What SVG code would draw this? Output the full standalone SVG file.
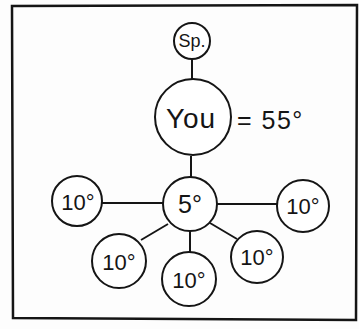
<svg xmlns="http://www.w3.org/2000/svg" width="359" height="329" viewBox="0 0 359 329">
<style>
.n{fill:#fff;stroke:#151515;stroke-width:2}
.c{stroke:#151515;stroke-width:2;fill:none}
.t{font-family:"Liberation Sans",Arial,sans-serif;fill:#151515;text-anchor:middle}
</style>
<rect width="359" height="329" fill="#fdfdfd"/>
<path d="M13,318 L12,6 L357,5 L356,320 Z" fill="none" stroke="#151515" stroke-width="2.5"/>
<g id="connectors" class="c">
<line x1="192" y1="59" x2="192" y2="79"/>
<line x1="191" y1="156" x2="191" y2="177"/>
<line x1="102" y1="203" x2="163" y2="203"/>
<line x1="217" y1="204" x2="277" y2="204"/>
<line x1="168" y1="224" x2="141" y2="240"/>
<line x1="190" y1="231" x2="190" y2="253"/>
<line x1="210" y1="223" x2="237" y2="239"/>
</g>
<g id="sp"><circle class="n" cx="192" cy="41" r="18"/><text class="t" x="192" y="47" font-size="18">Sp.</text></g>
<g id="you"><circle class="n" cx="193" cy="117" r="38"/><text class="t" x="191" y="128" font-size="28" letter-spacing="1">You</text></g>
<g id="total"><text x="237" y="129" font-family="Liberation Sans,Arial,sans-serif" font-size="25" letter-spacing="1.5" fill="#151515">= 55°</text></g>
<g id="center"><circle class="n" cx="190" cy="204" r="27"/><text class="t" x="190" y="213" font-size="25">5°</text></g>
<g id="left"><circle class="n" cx="77" cy="201" r="25"/><text class="t" x="78" y="210" font-size="22">10°</text></g>
<g id="right"><circle class="n" cx="303" cy="206" r="26"/><text class="t" x="303" y="214" font-size="22">10°</text></g>
<g id="lowerleft"><circle class="n" cx="119" cy="261" r="27"/><text class="t" x="119" y="270" font-size="22">10°</text></g>
<g id="bottom"><circle class="n" cx="189" cy="279" r="27"/><text class="t" x="189" y="288" font-size="22">10°</text></g>
<g id="lowerright"><circle class="n" cx="257" cy="257" r="26"/><text class="t" x="257" y="265" font-size="22">10°</text></g>
</svg>
